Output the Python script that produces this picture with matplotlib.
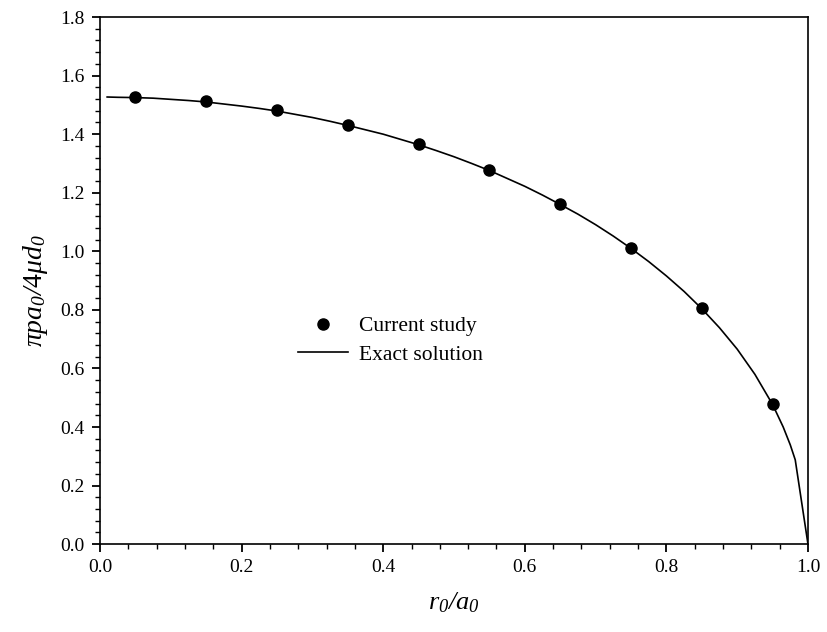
import matplotlib
matplotlib.use("Agg")
import matplotlib.pyplot as plt
from matplotlib.ticker import MultipleLocator

# =========================
# Data
# =========================
study_r = [0.05, 0.15, 0.25, 0.35, 0.45, 0.55, 0.65, 0.75, 0.85, 0.95]
study_p = [1.527, 1.512, 1.481, 1.433, 1.366, 1.278, 1.163, 1.013, 0.807, 0.478]

exact_r = [0.01, 0.025, 0.05, 0.075, 0.10, 0.125, 0.15, 0.175, 0.20, 0.225, 0.25,
           0.275, 0.30, 0.325, 0.35, 0.375, 0.40, 0.425, 0.45, 0.475, 0.50,
           0.525, 0.55, 0.575, 0.60, 0.625, 0.65, 0.675, 0.70, 0.725, 0.75,
           0.775, 0.80, 0.825, 0.85, 0.875, 0.90, 0.925, 0.95, 0.965, 0.975,
           0.982, 1.00]
exact_p = [1.527, 1.526, 1.525, 1.523, 1.519, 1.515, 1.510, 1.503, 1.496, 1.488, 1.479,
           1.468, 1.457, 1.444, 1.430, 1.415, 1.400, 1.382, 1.364, 1.344, 1.323,
           1.300, 1.276, 1.249, 1.222, 1.192, 1.160, 1.127, 1.091, 1.052, 1.010,
           0.965, 0.916, 0.863, 0.804, 0.739, 0.666, 0.580, 0.477, 0.400, 0.339,
           0.288, 0.0]

# =========================
# Style
# =========================
plt.rcParams["font.family"] = "Liberation Serif"
plt.rcParams["mathtext.fontset"] = "custom"
plt.rcParams["mathtext.rm"] = "Liberation Serif:italic"   # italic digits in subscripts
plt.rcParams["mathtext.it"] = "Liberation Serif:italic"
plt.rcParams["mathtext.sf"] = "Liberation Serif"          # upright where needed
plt.rcParams["mathtext.bf"] = "Liberation Serif:bold"

fig = plt.figure(figsize=(8.27, 6.32), dpi=100)
ax = fig.add_axes([0.121, 0.139, 0.856, 0.834])

ax.plot(exact_r, exact_p, color="black", lw=1.2, label="Exact solution")
ax.plot(study_r, study_p, "o", color="black", ms=8, label="Current study")

ax.set_xlim(0, 1.0)
ax.set_ylim(0, 1.8)
ax.xaxis.set_major_locator(MultipleLocator(0.2))
ax.xaxis.set_minor_locator(MultipleLocator(0.04))
ax.yaxis.set_major_locator(MultipleLocator(0.2))
ax.yaxis.set_minor_locator(MultipleLocator(0.04))
ax.xaxis.set_major_formatter(lambda v, p: f"{v:.1f}")
ax.yaxis.set_major_formatter(lambda v, p: f"{v:.1f}")

ax.tick_params(which="major", direction="out", length=6, width=1.3, labelsize=14, pad=5)
ax.tick_params(which="minor", direction="out", length=3.5, width=1)
for s in ax.spines.values():
    s.set_linewidth(1.2)

ax.set_xlabel(r"$r_0/a_0$", fontsize=19, labelpad=10)
ax.set_ylabel(r"$\pi p a_0/\mathsf{4}\mu d_0$", fontsize=20)
ax.yaxis.set_label_coords(-0.071, 0.482)

handles, labels = ax.get_legend_handles_labels()
ax.legend(handles[::-1], labels[::-1], loc="upper left", bbox_to_anchor=(0.268, 0.449),
          frameon=False, fontsize=15.5, handlelength=2.3, handletextpad=0.5,
          labelspacing=0.4, borderaxespad=0)

fig.savefig("out.png", dpi=100)
